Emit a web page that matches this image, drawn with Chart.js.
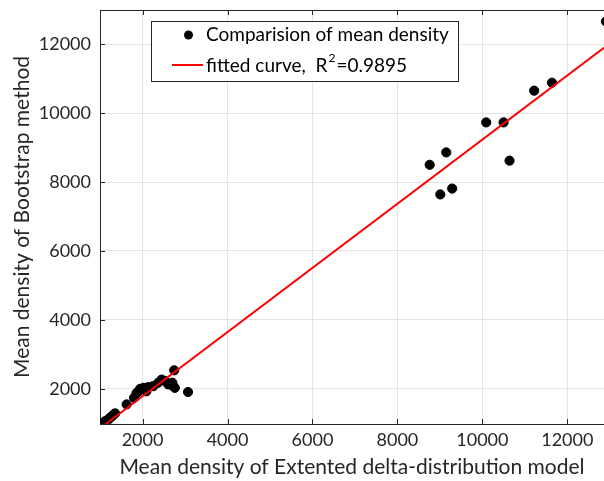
<!DOCTYPE html>
<html>
<head>
<meta charset="utf-8">
<script src="https://cdn.jsdelivr.net/npm/chart.js@4"></script>
<style>
  body { margin: 0; background: #fff; }
</style>
</head>
<body>
<canvas id="chart" width="604" height="481"></canvas>
<script>
// mean density, extended delta-distribution model (x) vs bootstrap (y)
const densityModel = [
  1115, 1150, 1195, 1240, 1275, 1320, 1355, 1625, 1800, 1860,
  1900, 1940, 2020, 2090, 2135, 2250, 2370, 2450, 2530, 2605,
  2700, 2720, 2760, 2745, 3070,
  8760, 9150, 9010, 9290, 10090, 10500, 10640, 11220, 11640, 12910
];
const densityBootstrap = [
  1060, 1080, 1110, 1170, 1200, 1260, 1290, 1550, 1740, 1880,
  1920, 2000, 2030, 1930, 2050, 2080, 2180, 2270, 2230, 2130,
  2180, 2080, 2030, 2540, 1910,
  8500, 8860, 7640, 7810, 9730, 9730, 8620, 10650, 10880, 12660
];
// end points of the fitted line
const fitX = [1110, 12870];
const fitY = [960, 11900];

const xTicks = [2000, 4000, 6000, 8000, 10000, 12000];
const yTicks = [2000, 4000, 6000, 8000, 10000, 12000];
const xRange = [998, 12864];
const yRange = [982, 12990];

const seriesLabel = "Comparision of mean density";
const fitLabel = "fitted curve,  R";
const fitSup = "2";
const fitValue = "=0.9895";

const fontName = "Lato";
const axisColor = "#262626";

const points = densityModel.map((x, i) => ({ x: x, y: densityBootstrap[i] }));
const fitLine = fitX.map((x, i) => ({ x: x, y: fitY[i] }));

// inward tick marks + top box edge
const boxTicks = {
  id: "boxTicks",
  afterDraw(chart) {
    const { ctx, chartArea: a, scales } = chart;
    ctx.save();
    ctx.strokeStyle = axisColor;
    ctx.lineWidth = 1;
    ctx.beginPath();
    ctx.moveTo(a.left, a.top + 0.5);
    ctx.lineTo(a.right, a.top + 0.5);
    xTicks.forEach(v => {
      const px = Math.round(scales.x.getPixelForValue(v)) + 0.5;
      ctx.moveTo(px, a.bottom);
      ctx.lineTo(px, a.bottom - 5);
      ctx.moveTo(px, a.top);
      ctx.lineTo(px, a.top + 5);
    });
    yTicks.forEach(v => {
      const py = Math.round(scales.y.getPixelForValue(v)) + 0.5;
      ctx.moveTo(a.left, py);
      ctx.lineTo(a.left + 5, py);
    });
    ctx.stroke();
    ctx.restore();
  }
};

// legend box inside the axes
const boxLegend = {
  id: "boxLegend",
  afterDraw(chart) {
    const ctx = chart.ctx;
    ctx.save();
    ctx.fillStyle = "#fff";
    ctx.fillRect(151.5, 21.5, 307, 60);
    ctx.strokeStyle = axisColor;
    ctx.lineWidth = 1;
    ctx.strokeRect(151.5, 21.5, 307, 60);

    ctx.fillStyle = "#000";
    ctx.beginPath();
    ctx.arc(188.5, 35, 4.5, 0, Math.PI * 2);
    ctx.fill();

    ctx.strokeStyle = "#ff0000";
    ctx.lineWidth = 2;
    ctx.beginPath();
    ctx.moveTo(172, 65);
    ctx.lineTo(203, 65);
    ctx.stroke();

    ctx.fillStyle = "#000";
    ctx.textBaseline = "middle";
    ctx.textAlign = "left";
    ctx.font = "19px " + fontName;
    ctx.fillText(seriesLabel, 206, 35);
    ctx.fillText(fitLabel, 206, 66);
    let w = ctx.measureText(fitLabel).width;
    ctx.font = "12px " + fontName;
    ctx.fillText(fitSup, 206 + w + 1, 58);
    const ws = ctx.measureText(fitSup).width;
    ctx.font = "19px " + fontName;
    ctx.fillText(fitValue, 206 + w + ws + 2, 66);
    ctx.restore();
  }
};

const noPad = s => {
  s.paddingTop = 0;
  s.paddingBottom = 0;
  s.paddingLeft = 0;
  s.paddingRight = 0;
};

new Chart(document.getElementById("chart"), {
  type: "scatter",
  data: {
    datasets: [
      {
        type: "line",
        label: fitLabel + fitSup + fitValue,
        data: fitLine,
        borderColor: "#ff0000",
        borderWidth: 2,
        pointRadius: 0,
        fill: false,
        order: 0
      },
      {
        label: seriesLabel,
        data: points,
        backgroundColor: "#000",
        borderColor: "#000",
        pointRadius: 4.6,
        order: 1
      }
    ]
  },
  options: {
    responsive: false,
    animation: false,
    layout: { autoPadding: false, padding: { top: 10, left: 0, right: 0, bottom: 0 } },
    plugins: {
      legend: { display: false },
      tooltip: { enabled: false }
    },
    scales: {
      x: {
        type: "linear",
        min: xRange[0],
        max: xRange[1],
        afterBuildTicks: s => { s.ticks = xTicks.map(v => ({ value: v })); },
        afterFit: s => { s.height = 57; noPad(s); },
        grid: { color: "#e4e4e4", drawTicks: false },
        border: { color: axisColor },
        ticks: {
          padding: 5, color: axisColor, font: { family: fontName, size: 18 },
          callback: v => String(v)
        },
        title: {
          display: true,
          text: "Mean density of Extented delta-distribution model",
          color: axisColor,
          font: { family: fontName, size: 21 },
          padding: { top: 0, bottom: 1 }
        }
      },
      y: {
        type: "linear",
        min: yRange[0],
        max: yRange[1],
        afterBuildTicks: s => { s.ticks = yTicks.map(v => ({ value: v })); },
        afterFit: s => { s.width = 100; noPad(s); },
        grid: { color: "#e4e4e4", drawTicks: false },
        border: { color: axisColor },
        ticks: {
          padding: 9, color: axisColor, font: { family: fontName, size: 18 },
          callback: v => String(v)
        },
        title: {
          display: true,
          text: "Mean density of Bootstrap method",
          color: axisColor,
          font: { family: fontName, size: 21 },
          padding: { top: 10, bottom: 0 }
        }
      }
    }
  },
  plugins: [boxTicks, boxLegend]
});
</script>
</body>
</html>
